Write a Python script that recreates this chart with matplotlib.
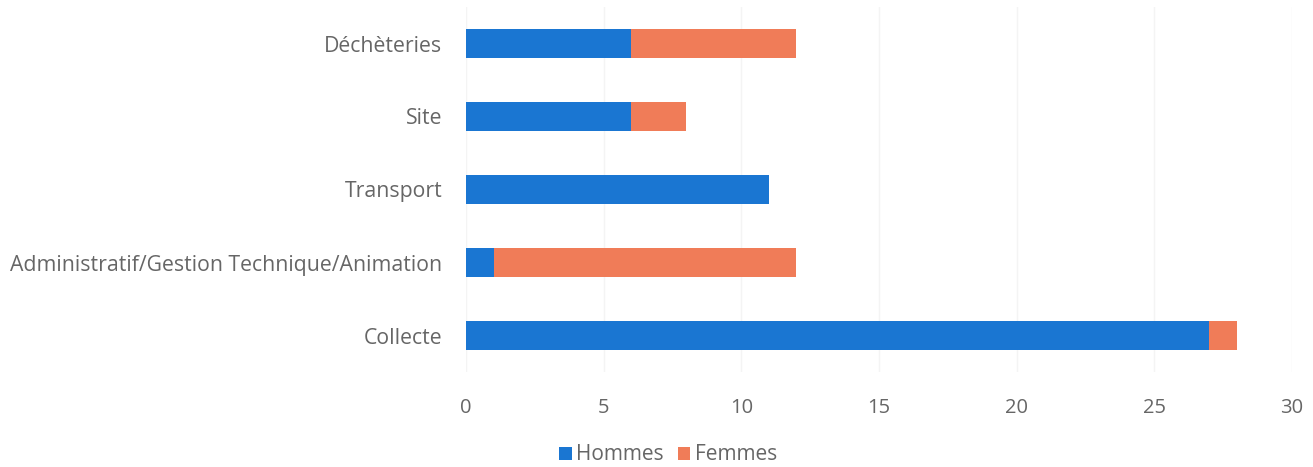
import numpy as np
import matplotlib.pyplot as plt

plt.rcParams['font.family'] = ['Open Sans', 'DejaVu Sans']

categories = ["Collecte", "Administratif/Gestion Technique/Animation", "Transport", "Site", "Déchèteries"]
hommes = [27, 1, 11, 6, 6]
femmes = [1, 11, 0, 2, 6]
xticks = [0, 5, 10, 15, 20, 25, 30]

blue = "#1a76d2"
orange = "#f07c58"
text_col = "#666666"

fig = plt.figure(figsize=(13.13, 4.67), dpi=100)
ax = fig.add_axes([466 / 1313, 1 - 372 / 467, (1292 - 466) / 1313, 365 / 467])

y = np.arange(len(categories))
ax.barh(y, hommes, height=0.4, color=blue, label="Hommes", zorder=3)
ax.barh(y, femmes, left=hommes, height=0.4, color=orange, label="Femmes", zorder=3)

ax.set_xlim(0, 30)
ax.set_ylim(-0.5, len(categories) - 0.5)
ax.set_yticks(y)
ax.set_yticklabels(categories, fontsize=15.3)
ax.set_xticks(xticks)
ax.tick_params(axis='both', length=0, colors=text_col)
ax.tick_params(axis='x', pad=19, labelsize=14.5)
ax.tick_params(axis='y', pad=17)
ax.grid(axis='x', color="#f4f4f4", linewidth=1, zorder=0)
for s in ax.spines.values():
    s.set_visible(False)

fig.legend(loc='center', bbox_to_anchor=(668 / 1313, 1 - 455 / 467), ncol=2, frameon=False,
           fontsize=15, labelcolor=text_col, handlelength=0.6, handleheight=0.6,
           handletextpad=0.2, columnspacing=0.7)

fig.savefig("out.png", dpi=100, facecolor="white")
